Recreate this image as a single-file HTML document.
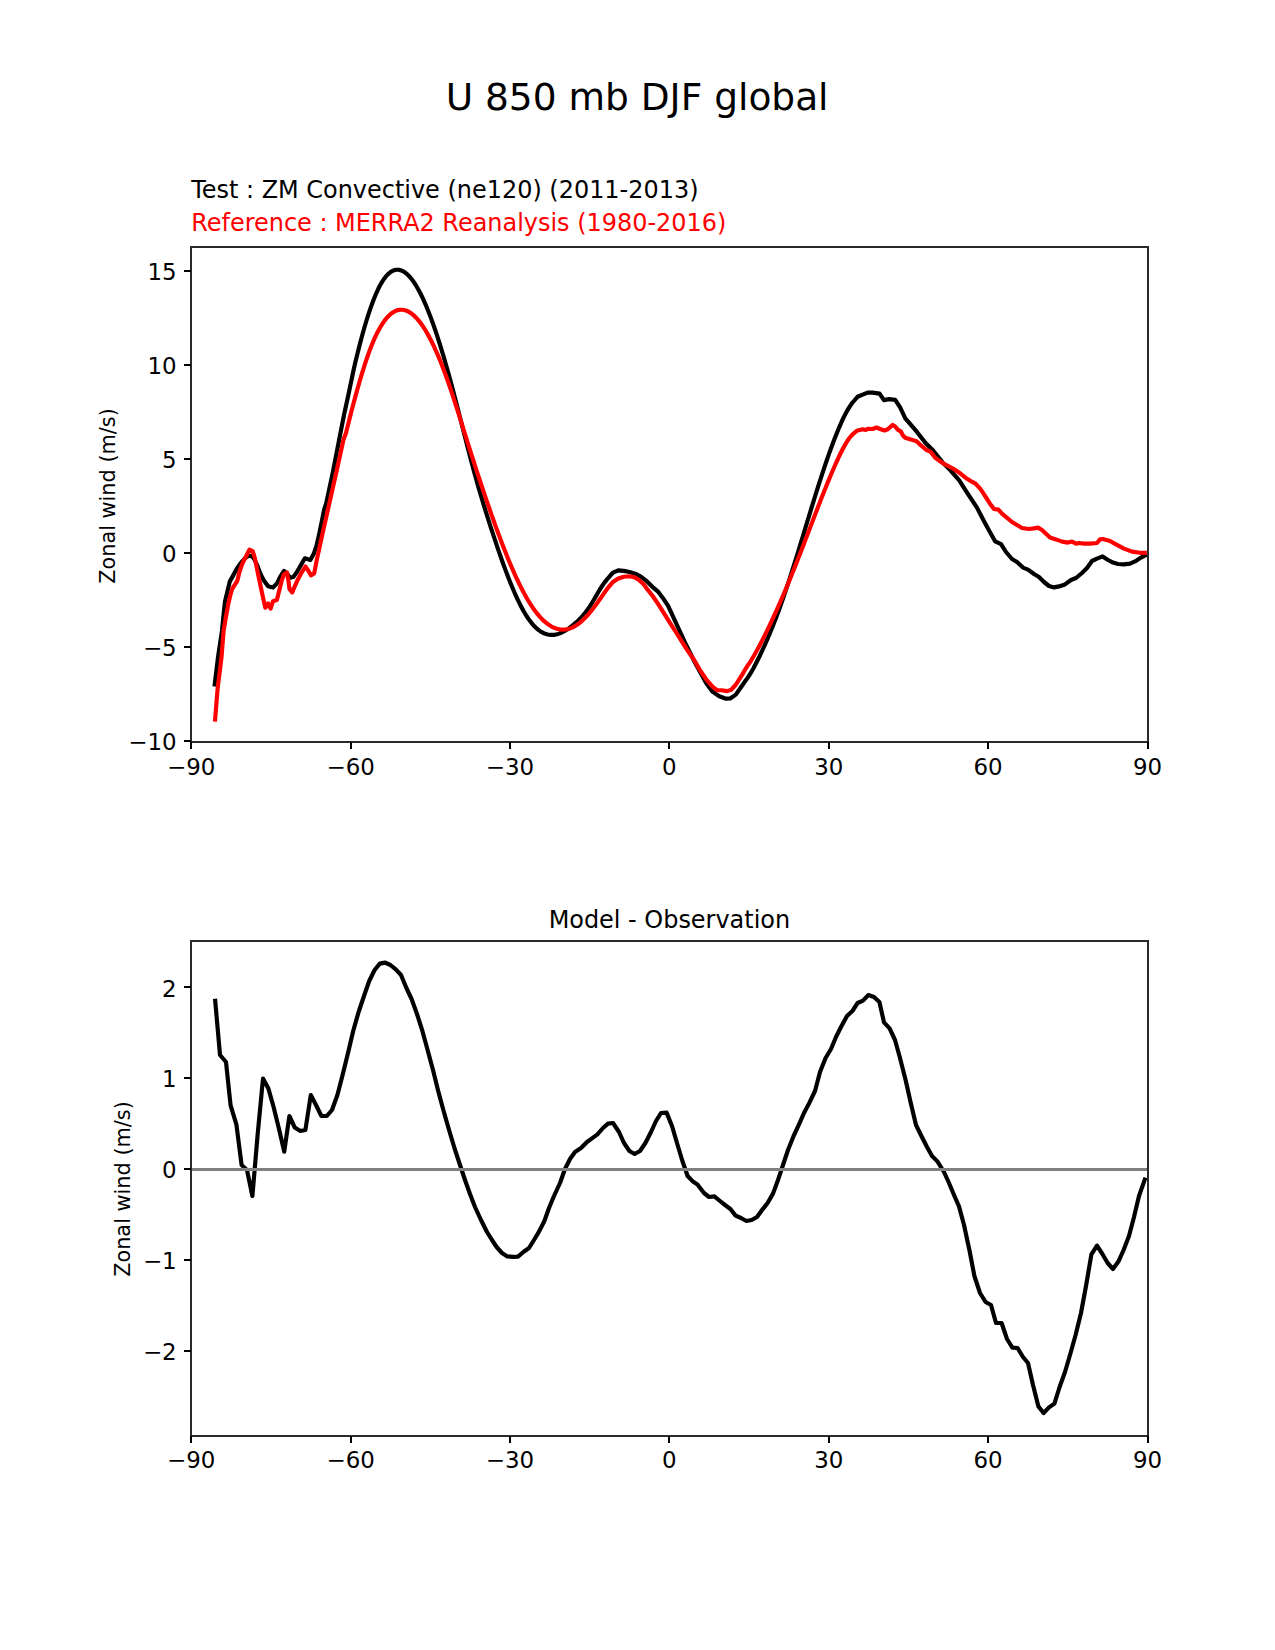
<!DOCTYPE html>
<html lang="en">
<head>
<meta charset="utf-8">
<title>U 850 mb DJF global</title>
<style>
html,body{margin:0;padding:0;background:#fff;}
body{width:1275px;height:1650px;overflow:hidden;}
svg{display:block;}
text{font-family:"DejaVu Sans","Liberation Sans",sans-serif;}
</style>
</head>
<body>
<svg width="1275" height="1650" viewBox="0 0 1275 1650">
<rect x="0" y="0" width="1275" height="1650" fill="#ffffff"/>
<defs>
<clipPath id="c1"><rect x="191.25" y="247.5" width="956.25" height="495"/></clipPath>
<clipPath id="c2"><rect x="191.25" y="940.5" width="956.25" height="495"/></clipPath>
</defs>
<g clip-path="url(#c1)" fill="none" stroke-width="4.167" stroke-linejoin="round" stroke-linecap="square">
<polyline stroke="#000000" points="214.70,684.50 218.00,657.30 221.96,630.79 223.61,614.32 225.04,601.14 227.45,591.26 229.87,581.37 232.94,575.88 236.78,568.75 240.85,562.93 245.02,558.31 248.31,555.90 251.06,555.90 253.80,558.31 257.10,564.90 260.39,573.69 263.69,580.28 268.08,586.31 273.02,587.41 276.86,583.57 280.16,576.98 284.00,570.94 286.75,573.14 290.04,577.86 293.33,576.98 296.63,572.59 301.02,564.90 304.86,558.31 310.35,559.96 313.65,553.92 316.39,546.24 319.14,534.16 321.88,520.98 324.08,510.00 326.30,503.00 333.00,471.50 339.10,440.00 344.00,415.00 348.20,395.76 349.70,388.53 351.20,381.33 352.70,374.22 354.20,367.30 355.70,360.79 357.20,354.64 358.70,348.66 360.20,342.86 361.70,337.23 363.20,331.80 364.70,326.55 366.20,321.50 367.70,316.66 369.20,312.03 370.70,307.62 372.20,303.43 373.70,299.47 375.20,295.74 376.70,292.26 378.20,289.02 379.70,286.05 381.20,283.33 382.70,280.87 384.20,278.66 385.70,276.71 387.20,275.00 388.70,273.54 390.20,272.33 391.70,271.35 393.20,270.60 394.70,270.08 396.20,269.79 397.70,269.72 399.20,269.88 400.70,270.25 402.20,270.83 403.70,271.62 405.20,272.61 406.70,273.80 408.20,275.20 409.70,276.79 411.20,278.56 412.70,280.53 414.20,282.68 415.70,285.00 417.20,287.51 418.70,290.19 420.20,293.03 421.70,296.04 423.20,299.21 424.70,302.54 426.20,306.03 427.70,309.67 429.20,313.45 430.70,317.38 432.20,321.44 433.70,325.64 435.20,329.98 436.70,334.45 438.20,339.04 439.70,343.75 441.20,348.58 442.70,353.52 444.20,358.58 445.70,363.75 447.20,369.01 448.70,374.38 450.20,379.85 451.70,385.40 453.20,391.05 454.70,396.77 456.20,402.55 457.70,408.38 459.20,414.25 460.70,420.14 462.20,426.05 463.70,431.95 465.20,437.83 466.70,443.69 468.20,449.51 469.70,455.27 471.20,460.96 472.70,466.58 474.20,472.10 475.70,477.52 477.20,482.84 478.70,488.06 480.20,493.19 481.70,498.23 483.20,503.20 484.70,508.09 486.20,512.91 487.70,517.67 489.20,522.37 490.70,527.02 492.20,531.63 493.70,536.20 495.20,540.71 496.70,545.18 498.20,549.59 499.70,553.94 501.20,558.22 502.70,562.44 504.20,566.57 505.70,570.63 507.20,574.60 508.70,578.48 510.20,582.26 511.70,585.95 513.20,589.53 514.70,593.00 516.20,596.36 517.70,599.59 519.20,602.71 520.70,605.69 522.20,608.54 523.70,611.25 525.20,613.81 526.70,616.23 528.20,618.49 529.70,620.60 531.20,622.56 532.70,624.36 534.20,626.01 535.70,627.52 537.20,628.88 538.70,630.10 540.20,631.17 541.70,632.11 543.20,632.91 544.70,633.57 546.20,634.10 547.70,634.50 549.20,634.78 550.70,634.92 552.20,634.94 553.70,634.84 555.20,634.63 556.70,634.31 558.20,633.88 559.70,633.36 561.20,632.74 562.70,632.03 564.20,631.23 565.70,630.36 567.20,629.41 568.70,628.40 570.20,627.31 571.70,626.17 573.20,624.98 574.70,623.72 576.20,622.41 577.70,621.03 579.20,619.57 580.70,618.03 582.20,616.40 583.70,614.66 585.20,612.82 586.70,610.86 588.20,608.78 589.70,606.56 591.20,604.21 592.70,601.74 594.20,599.20 595.70,596.61 597.20,594.01 598.70,591.45 600.20,588.94 601.70,586.53 603.20,584.38 604.70,582.36 606.20,580.38 607.70,578.53 609.20,576.86 612.59,572.94 618.24,570.31 623.88,570.87 629.53,572.00 635.18,573.69 640.82,576.71 646.47,580.94 652.12,586.59 657.76,591.29 662.47,597.41 668.12,605.88 673.76,618.12 679.41,630.35 685.06,642.59 690.71,653.88 693.53,660.00 699.53,671.02 706.12,683.10 712.71,691.88 719.30,696.28 725.88,698.69 730.28,698.47 735.77,694.63 742.35,685.30 745.70,680.40 747.20,678.37 748.70,676.21 750.20,673.82 751.70,671.32 753.20,668.67 754.70,665.85 756.20,662.96 757.70,660.01 759.20,656.98 760.70,653.88 762.20,650.70 763.70,647.45 765.20,644.13 766.70,640.73 768.20,637.25 769.70,633.70 771.20,630.06 772.70,626.35 774.20,622.55 775.70,618.68 777.20,614.72 778.70,610.68 780.20,606.55 781.70,602.34 783.20,598.04 784.70,593.66 786.20,589.20 787.70,584.68 789.20,580.09 790.70,575.44 792.20,570.73 793.70,565.98 795.20,561.18 796.70,556.35 798.20,551.49 799.70,546.60 801.20,541.69 802.70,536.76 804.20,531.83 805.70,526.89 807.20,521.96 808.70,517.03 810.20,512.11 811.70,507.21 813.20,502.34 814.70,497.50 816.20,492.69 817.70,487.92 819.20,483.20 820.70,478.53 822.20,473.92 823.70,469.37 825.20,464.89 826.70,460.48 828.20,456.15 829.70,451.91 831.20,447.76 832.70,443.71 834.20,439.75 835.70,435.91 837.20,432.18 838.70,428.56 840.20,425.07 841.70,421.71 843.20,418.49 844.70,415.43 846.20,412.52 847.70,409.82 849.20,407.39 850.70,405.15 852.20,402.98 853.70,401.24 857.50,396.80 863.30,394.40 867.64,392.58 872.66,392.58 879.56,393.59 883.95,400.11 888.97,399.11 895.24,399.86 900.26,407.64 905.28,418.31 916.57,431.48 925.36,442.77 932.89,450.30 942.92,462.85 950.45,470.38 959.23,480.41 968.02,494.22 976.80,507.39 984.30,521.70 988.10,528.70 992.00,535.70 995.20,541.40 1001.00,544.20 1006.00,552.00 1012.00,559.00 1017.00,562.00 1023.00,567.60 1028.00,569.60 1034.00,574.00 1039.00,577.00 1044.00,582.00 1049.00,586.00 1054.00,587.40 1059.00,586.40 1065.00,584.40 1071.00,580.00 1076.00,578.00 1082.00,573.00 1087.00,568.00 1092.00,561.00 1097.00,558.60 1102.60,556.40 1108.00,560.00 1113.00,562.60 1118.00,564.00 1124.00,564.40 1130.00,563.60 1135.00,561.40 1141.00,557.60 1144.80,555.60"/>
<polyline stroke="#ff0000" points="215.10,719.50 217.60,688.80 221.50,657.30 223.61,630.79 225.80,617.61 228.00,605.53 230.20,595.65 232.39,588.51 234.92,584.67 237.33,580.82 239.53,571.49 242.28,563.80 245.57,557.22 249.41,549.75 252.71,551.18 254.90,558.31 257.10,569.30 259.84,582.47 262.59,595.65 265.33,607.73 268.08,603.55 270.61,608.61 273.02,601.14 276.86,600.04 279.06,591.26 281.81,580.28 284.00,574.24 287.08,572.59 288.39,580.28 289.49,589.06 292.24,592.35 294.98,585.77 297.73,579.73 301.57,572.59 305.41,566.55 308.16,570.39 310.90,575.33 314.20,573.47 316.60,560.80 322.30,534.60 329.40,503.00 336.50,471.50 343.40,440.00 346.00,433.00 347.10,428.59 348.60,422.49 350.10,416.48 351.60,410.58 353.10,404.93 354.60,399.36 356.10,393.88 357.60,388.51 359.10,383.25 360.60,378.11 362.10,373.12 363.60,368.27 365.10,363.58 366.60,359.07 368.10,354.74 369.60,350.61 371.10,346.69 372.60,342.98 374.10,339.47 375.60,336.18 377.10,333.08 378.60,330.19 380.10,327.50 381.60,325.01 383.10,322.71 384.60,320.61 386.10,318.70 387.60,316.98 389.10,315.45 390.60,314.10 392.10,312.94 393.60,311.96 395.10,311.15 396.60,310.53 398.10,310.08 399.60,309.81 401.10,309.71 402.60,309.77 404.10,310.01 405.60,310.41 407.10,310.97 408.60,311.70 410.10,312.58 411.60,313.62 413.10,314.82 414.60,316.17 416.10,317.67 417.60,319.32 419.10,321.12 420.60,323.06 422.10,325.14 423.60,327.37 425.10,329.74 426.60,332.24 428.10,334.87 429.60,337.64 431.10,340.54 432.60,343.57 434.10,346.73 435.60,350.01 437.10,353.41 438.60,356.93 440.10,360.58 441.60,364.33 443.10,368.21 444.60,372.19 446.10,376.28 447.60,380.49 449.10,384.79 450.60,389.19 452.10,393.67 453.60,398.22 455.10,402.84 456.60,407.51 458.10,412.22 459.60,416.97 461.10,421.74 462.60,426.52 464.10,431.31 465.60,436.10 467.10,440.87 468.60,445.62 470.10,450.35 471.60,455.06 473.10,459.74 474.60,464.40 476.10,469.03 477.60,473.63 479.10,478.21 480.60,482.75 482.10,487.26 483.60,491.74 485.10,496.18 486.60,500.59 488.10,504.95 489.60,509.28 491.10,513.57 492.60,517.81 494.10,522.02 495.60,526.17 497.10,530.28 498.60,534.34 500.10,538.35 501.60,542.31 503.10,546.21 504.60,550.05 506.10,553.82 507.60,557.54 509.10,561.19 510.60,564.76 512.10,568.27 513.60,571.69 515.10,575.05 516.60,578.32 518.10,581.50 519.60,584.60 521.10,587.62 522.60,590.54 524.10,593.36 525.60,596.09 527.10,598.72 528.60,601.25 530.10,603.68 531.60,605.99 533.10,608.20 534.60,610.30 536.10,612.29 537.60,614.17 539.10,615.95 540.60,617.62 542.10,619.18 543.60,620.63 545.10,621.97 546.60,623.20 548.10,624.33 549.60,625.34 551.10,626.25 552.60,627.05 554.10,627.74 555.60,628.32 557.10,628.80 558.60,629.16 560.10,629.42 561.60,629.57 563.10,629.61 564.60,629.54 566.10,629.36 567.60,629.07 569.10,628.68 570.60,628.17 572.10,627.56 573.60,626.84 575.10,626.00 576.60,625.06 578.10,624.02 579.60,622.87 581.10,621.62 582.60,620.28 584.10,618.84 585.60,617.32 587.10,615.71 588.60,614.03 590.10,612.26 591.60,610.42 593.10,608.52 594.60,606.55 596.10,604.51 597.60,602.43 599.10,600.31 600.60,598.18 602.10,596.04 603.60,593.84 605.10,591.70 606.60,589.61 608.10,587.68 609.60,585.86 612.59,582.35 618.24,578.59 623.88,576.71 629.53,576.24 634.24,577.18 638.94,580.00 643.65,584.24 647.41,589.41 653.06,596.47 658.71,604.94 664.35,613.88 670.00,622.82 675.65,631.76 681.29,640.71 686.94,649.65 693.53,659.06 699.53,669.37 706.12,679.26 712.71,686.94 717.10,690.24 721.49,690.24 726.98,691.12 731.37,689.69 735.77,684.75 742.35,674.32 746.10,668.04 747.60,665.67 749.10,663.55 750.60,661.32 752.10,658.90 753.60,656.31 755.10,653.68 756.60,650.99 758.10,648.24 759.60,645.44 761.10,642.59 762.60,639.68 764.10,636.72 765.60,633.72 767.10,630.66 768.60,627.56 770.10,624.41 771.60,621.22 773.10,617.99 774.60,614.72 776.10,611.41 777.60,608.06 779.10,604.67 780.60,601.25 782.10,597.78 783.60,594.29 785.10,590.75 786.60,587.19 788.10,583.59 789.60,579.95 791.10,576.29 792.60,572.59 794.10,568.87 795.60,565.11 797.10,561.33 798.60,557.52 800.10,553.68 801.60,549.81 803.10,545.93 804.60,542.03 806.10,538.11 807.60,534.18 809.10,530.25 810.60,526.32 812.10,522.39 813.60,518.46 815.10,514.55 816.60,510.64 818.10,506.76 819.60,502.89 821.10,499.05 822.60,495.24 824.10,491.46 825.60,487.72 827.10,484.02 828.60,480.37 830.10,476.76 831.60,473.20 833.10,469.70 834.60,466.26 836.10,462.88 837.60,459.58 839.10,456.37 840.60,453.27 842.10,450.29 843.60,447.45 845.10,444.76 846.60,442.25 848.10,439.91 849.60,437.78 851.10,435.97 852.60,434.36 854.10,433.06 856.80,430.70 862.62,429.22 865.76,429.97 868.27,428.72 872.66,428.97 876.42,427.47 880.19,428.97 884.58,430.48 887.72,429.22 892.74,424.96 895.24,426.46 897.75,429.60 900.89,431.48 902.77,435.24 905.28,437.75 911.56,439.64 916.57,441.27 921.59,445.91 926.61,450.05 930.38,451.56 935.40,457.83 940.41,461.59 945.43,464.73 952.96,468.49 960.49,473.51 966.76,478.53 971.78,481.67 975.55,483.55 980.56,489.20 985.58,496.73 989.97,503.63 994.00,509.00 998.40,509.60 1002.00,513.60 1012.00,522.00 1022.00,528.00 1029.00,529.00 1034.00,528.40 1038.00,527.60 1042.00,530.00 1050.00,537.60 1056.00,539.40 1062.00,541.60 1068.00,542.60 1072.00,541.60 1076.00,543.60 1079.00,543.00 1084.00,543.60 1090.00,543.60 1097.00,543.00 1100.00,539.40 1103.00,539.00 1110.00,541.00 1116.00,544.40 1124.00,548.60 1132.00,551.60 1140.00,552.80 1144.80,552.80"/>
</g>
<g clip-path="url(#c2)" fill="none" stroke-linejoin="round">
<polyline stroke="#000000" stroke-width="4.167" stroke-linecap="square" points="215.20,1000.80 220.00,1055.00 226.00,1062.00 230.60,1105.40 236.40,1124.60 241.60,1165.00 247.00,1170.00 252.40,1196.00 257.60,1135.00 263.00,1078.60 268.40,1088.60 273.60,1107.00 279.00,1129.00 284.20,1151.60 289.40,1116.00 294.80,1127.60 300.20,1131.00 305.40,1130.00 310.80,1095.00 316.00,1105.00 321.40,1116.00 326.80,1116.00 332.00,1110.00 337.40,1095.00 342.60,1075.00 348.00,1053.00 353.20,1031.00 358.60,1012.00 364.00,996.00 369.20,981.00 374.60,970.00 379.80,963.60 385.20,962.60 390.40,965.00 395.80,969.40 401.00,975.00 406.40,988.00 411.60,999.00 417.00,1014.00 422.40,1031.00 427.60,1050.00 433.00,1070.00 438.20,1091.00 443.60,1111.00 449.20,1130.50 454.60,1148.50 460.00,1165.00 465.00,1180.00 470.00,1194.00 475.00,1207.00 481.00,1220.00 487.00,1232.00 492.00,1240.00 496.60,1247.00 502.00,1253.00 507.40,1256.40 513.00,1256.80 518.00,1256.60 523.40,1252.00 529.00,1248.00 534.00,1240.00 539.00,1231.60 544.40,1221.00 549.00,1208.00 554.00,1196.00 560.00,1183.00 565.00,1169.00 570.00,1159.00 575.00,1152.00 581.00,1148.00 587.00,1142.00 592.00,1138.40 597.40,1134.40 603.00,1128.00 608.00,1123.60 613.00,1123.00 619.00,1132.00 624.00,1143.00 629.40,1151.00 634.60,1154.00 640.00,1151.00 645.40,1143.00 651.00,1132.00 656.00,1121.00 661.00,1113.00 666.60,1112.60 672.00,1126.00 677.00,1143.00 682.40,1161.00 687.60,1176.00 693.00,1181.60 697.40,1184.40 704.00,1193.00 709.00,1197.00 714.40,1196.40 720.00,1201.00 725.00,1205.00 730.40,1209.00 735.60,1215.60 741.00,1218.00 746.40,1221.00 751.60,1220.00 757.00,1217.00 762.40,1209.60 767.60,1203.00 773.00,1193.60 778.00,1180.00 783.00,1165.00 788.00,1150.00 793.60,1136.00 799.00,1124.40 804.00,1113.00 809.60,1102.40 815.00,1091.00 820.00,1072.00 825.60,1058.00 831.00,1049.00 836.00,1037.00 841.00,1027.00 847.00,1016.00 852.40,1011.00 857.60,1003.00 863.00,1000.60 868.40,995.00 874.00,997.00 879.40,1002.00 884.00,1022.40 889.60,1028.40 895.00,1040.00 900.00,1058.00 905.60,1080.00 911.00,1104.00 916.00,1125.00 921.40,1136.00 927.00,1147.00 932.00,1156.00 937.40,1161.40 944.00,1172.00 949.00,1183.00 954.00,1195.00 959.00,1206.40 964.00,1225.00 969.40,1250.00 974.40,1276.00 980.00,1293.00 985.60,1302.00 991.00,1305.00 996.00,1323.00 1001.60,1323.00 1007.00,1339.00 1012.40,1347.60 1017.60,1348.00 1023.00,1357.00 1028.00,1363.00 1033.00,1385.00 1038.40,1406.40 1043.60,1413.00 1049.00,1407.40 1054.40,1403.60 1059.60,1387.00 1065.00,1372.00 1070.00,1355.00 1075.60,1335.00 1081.00,1313.00 1086.00,1286.00 1091.40,1254.40 1097.00,1245.60 1102.40,1254.00 1107.60,1263.00 1113.00,1269.00 1118.40,1261.60 1123.60,1250.00 1129.00,1236.00 1134.00,1217.00 1139.00,1196.00 1144.80,1179.60"/>
<line x1="191.25" y1="1169.5" x2="1147.5" y2="1169.5" stroke="#808080" stroke-width="3.125"/>
</g>
<g fill="#2a2a2a" shape-rendering="crispEdges">
<rect x="190" y="246" width="959" height="2"/>
<rect x="190" y="741" width="959" height="2"/>
<rect x="190" y="246" width="2" height="497"/>
<rect x="1147" y="246" width="2" height="497"/>
</g>
<g fill="#2a2a2a" shape-rendering="crispEdges">
<rect x="190" y="940" width="959" height="2"/>
<rect x="190" y="1435" width="959" height="2"/>
<rect x="190" y="940" width="2" height="497"/>
<rect x="1147" y="940" width="2" height="497"/>
</g>
<g fill="#000000" shape-rendering="crispEdges">
<rect x="190" y="742" width="2" height="7"/>
<rect x="190" y="1436" width="2" height="7"/>
<rect x="350" y="742" width="2" height="7"/>
<rect x="350" y="1436" width="2" height="7"/>
<rect x="509" y="742" width="2" height="7"/>
<rect x="509" y="1436" width="2" height="7"/>
<rect x="668" y="742" width="2" height="7"/>
<rect x="668" y="1436" width="2" height="7"/>
<rect x="828" y="742" width="2" height="7"/>
<rect x="828" y="1436" width="2" height="7"/>
<rect x="987" y="742" width="2" height="7"/>
<rect x="987" y="1436" width="2" height="7"/>
<rect x="1147" y="742" width="2" height="7"/>
<rect x="1147" y="1436" width="2" height="7"/>
<rect x="184" y="270" width="7" height="2"/>
<rect x="184" y="364" width="7" height="2"/>
<rect x="184" y="458" width="7" height="2"/>
<rect x="184" y="552" width="7" height="2"/>
<rect x="184" y="646" width="7" height="2"/>
<rect x="184" y="740" width="7" height="2"/>
<rect x="184" y="986" width="7" height="2"/>
<rect x="184" y="1077" width="7" height="2"/>
<rect x="184" y="1168" width="7" height="2"/>
<rect x="184" y="1259" width="7" height="2"/>
<rect x="184" y="1350" width="7" height="2"/>
</g>
<text x="191.250" y="775.296" font-size="22.917" text-anchor="middle" fill="#000000">−90</text>
<text x="191.250" y="1468.296" font-size="22.917" text-anchor="middle" fill="#000000">−90</text>
<text x="350.625" y="775.296" font-size="22.917" text-anchor="middle" fill="#000000">−60</text>
<text x="350.625" y="1468.296" font-size="22.917" text-anchor="middle" fill="#000000">−60</text>
<text x="510.000" y="775.296" font-size="22.917" text-anchor="middle" fill="#000000">−30</text>
<text x="510.000" y="1468.296" font-size="22.917" text-anchor="middle" fill="#000000">−30</text>
<text x="669.375" y="775.296" font-size="22.917" text-anchor="middle" fill="#000000">0</text>
<text x="669.375" y="1468.296" font-size="22.917" text-anchor="middle" fill="#000000">0</text>
<text x="828.750" y="775.296" font-size="22.917" text-anchor="middle" fill="#000000">30</text>
<text x="828.750" y="1468.296" font-size="22.917" text-anchor="middle" fill="#000000">30</text>
<text x="988.125" y="775.296" font-size="22.917" text-anchor="middle" fill="#000000">60</text>
<text x="988.125" y="1468.296" font-size="22.917" text-anchor="middle" fill="#000000">60</text>
<text x="1147.500" y="775.296" font-size="22.917" text-anchor="middle" fill="#000000">90</text>
<text x="1147.500" y="1468.296" font-size="22.917" text-anchor="middle" fill="#000000">90</text>
<text x="176.667" y="750.014" font-size="22.917" text-anchor="end" fill="#000000">−10</text>
<text x="176.667" y="655.979" font-size="22.917" text-anchor="end" fill="#000000">−5</text>
<text x="176.667" y="561.944" font-size="22.917" text-anchor="end" fill="#000000">0</text>
<text x="176.667" y="467.909" font-size="22.917" text-anchor="end" fill="#000000">5</text>
<text x="176.667" y="373.874" font-size="22.917" text-anchor="end" fill="#000000">10</text>
<text x="176.667" y="279.839" font-size="22.917" text-anchor="end" fill="#000000">15</text>
<text x="176.667" y="1359.816" font-size="22.917" text-anchor="end" fill="#000000">−2</text>
<text x="176.667" y="1269.023" font-size="22.917" text-anchor="end" fill="#000000">−1</text>
<text x="176.667" y="1178.231" font-size="22.917" text-anchor="end" fill="#000000">0</text>
<text x="176.667" y="1087.439" font-size="22.917" text-anchor="end" fill="#000000">1</text>
<text x="176.667" y="996.646" font-size="22.917" text-anchor="end" fill="#000000">2</text>
<text x="114.836" y="496.000" font-size="20.833" text-anchor="middle" fill="#000000" transform="rotate(-90 114.836 496.000)">Zonal wind (m/s)</text>
<text x="130.216" y="1189.000" font-size="20.833" text-anchor="middle" fill="#000000" transform="rotate(-90 130.216 1189.000)">Zonal wind (m/s)</text>
<text x="669.375" y="928.000" font-size="23.958" text-anchor="middle" fill="#000000">Model - Observation</text>
<text x="191.250" y="198.000" font-size="23.958" text-anchor="start" fill="#000000">Test : ZM Convective (ne120) (2011-2013)</text>
<text x="191.250" y="231.000" font-size="23.958" text-anchor="start" fill="#ff0000">Reference : MERRA2 Reanalysis (1980-2016)</text>
<text x="637.100" y="110.094" font-size="37.500" text-anchor="middle" fill="#000000">U 850 mb DJF global</text>
</svg>
</body>
</html>
